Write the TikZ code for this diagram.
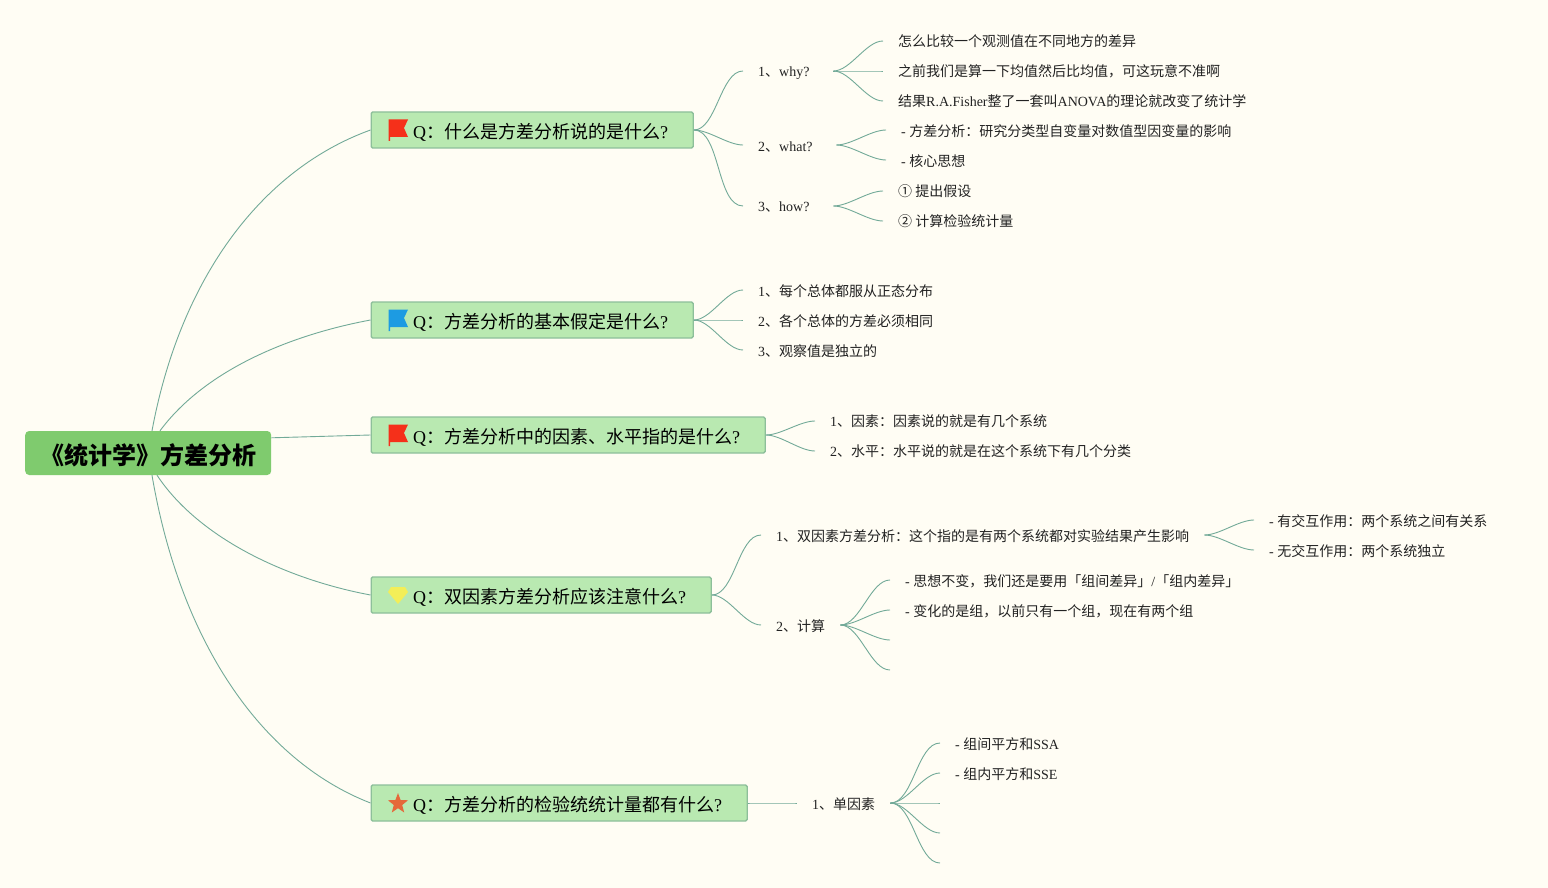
\documentclass[tikz,border=0pt]{standalone}
\usepackage{fontspec}
\setmainfont{Liberation Serif}
\newfontfamily\cjk{Noto Sans CJK SC}
\newcommand{\C}[1]{{\cjk #1}}
\definecolor{bgc}{HTML}{FFFDF4}
\definecolor{rootc}{HTML}{7FCB6E}
\definecolor{topicc}{HTML}{B9E9B1}
\definecolor{topicb}{HTML}{8DBF9A}
\definecolor{linec}{HTML}{72AA98}
\definecolor{inkc}{HTML}{222222}
\definecolor{redf}{HTML}{F5301A}
\definecolor{bluef}{HTML}{1D9BE2}
\definecolor{gemc}{HTML}{F3EE58}
\definecolor{starc}{HTML}{E5683A}
\tikzset{
  x=1pt,y=-1pt,
  rootbox/.style={anchor=west,fill=rootc,rounded corners=4pt,inner sep=0pt,minimum width=246pt,minimum height=44pt,text height=23pt,text depth=0pt,font=\fontsize{24pt}{28pt}\selectfont\bfseries,text=black},
  topic/.style={anchor=west,fill=topicc,draw=topicb,line width=1.4pt,rounded corners=1.5pt,inner sep=0pt,minimum height=36pt,text height=17.5pt,text depth=0pt,align=left,font=\fontsize{18pt}{22pt}\selectfont,text=black},
  sub/.style={anchor=west,inner xsep=15pt,inner ysep=0pt,text height=12.3pt,text depth=1.7pt,align=left,font=\fontsize{14pt}{17pt}\selectfont,text=inkc},
  low/.style={text height=13.3pt,text depth=0.7pt},
  conn/.style={draw=linec,line width=0.9pt},
  sig/.style={conn,out=0,in=180,looseness=0.75},
}
\newcommand{\Q}[1]{\hspace*{42pt}#1}
\begin{document}
\begin{tikzpicture}
\fill[bgc] (0,0) rectangle (1548,888);
\useasboundingbox (0,0) rectangle (1548,888);
% root and topics
\node[rootbox] (root) at (25,453) {\C{《统计学》方差分析}};
\node[topic,text width=322pt] (q1) at (370.5,130) {\Q{Q\C{：什么是方差分析说的是什么}?}};
\node[topic,text width=322pt] (q2) at (370.5,320) {\Q{Q\C{：方差分析的基本假定是什么}?}};
\node[topic,text width=394pt] (q3) at (370.5,435) {\Q{Q\C{：方差分析中的因素、水平指的是什么}?}};
\node[topic,text width=340pt] (q4) at (370.5,595) {\Q{Q\C{：双因素方差分析应该注意什么}?}};
\node[topic,text width=376pt] (q5) at (370.5,803) {\Q{Q\C{：方差分析的检验统统计量都有什么}?}};
% icons
\foreach \dy/\col in {0/redf,190/bluef,305/redf}{
  \fill[\col,shift={(0,\dy)}] (388.5,119.5) -- (408,119.5) -- (404,128) -- (408,137) -- (390,137) -- (390,141) -- (388.5,141) -- cycle;
}
\fill[gemc] (391,587) -- (405,587) -- (408,592) -- (398,604) -- (388,592) -- cycle;
\fill[starc] (398,793) -- (400.6,800) -- (408,800.3) -- (402.2,805) -- (404.2,812.5) -- (398,808.2) -- (391.8,812.5) -- (393.8,805) -- (388,800.3) -- (395.4,800) -- cycle;
% sub nodes
\node[sub,text width=60pt] (a1) at (743,71) {1\C{、}why?};
\node[sub,low,text width=63pt] (a2) at (743,145) {2\C{、}what?};
\node[sub,text width=60pt] (a3) at (743,206) {3\C{、}how?};
\node[sub] (a11) at (883,41) {\C{怎么比较一个观测值在不同地方的差异}};
\node[sub] (a12) at (883,71) {\C{之前我们是算一下均值然后比均值，可这玩意不准啊}};
\node[sub] (a13) at (883,101) {\C{结果}R.A.Fisher\C{整了一套叫}ANOVA\C{的理论就改变了统计学}};
\node[sub,low] (a21) at (886,130) {- \C{方差分析：研究分类型自变量对数值型因变量的影响}};
\node[sub,low] (a22) at (886,160) {- \C{核心思想}};
\node[sub] (a31) at (883,191) {\C{① 提出假设}};
\node[sub] (a32) at (883,221) {\C{② 计算检验统计量}};
\node[sub,low] (b1) at (743,290) {1\C{、每个总体都服从正态分布}};
\node[sub,low] (b2) at (743,320) {2\C{、各个总体的方差必须相同}};
\node[sub,low] (b3) at (743,350) {3\C{、观察值是独立的}};
\node[sub] (c1) at (815,421) {1\C{、因素：因素说的就是有几个系统}};
\node[sub] (c2) at (815,451) {2\C{、水平：水平说的就是在这个系统下有几个分类}};
\node[sub,low,text width=413pt] (d1) at (761,535) {1\C{、双因素方差分析：这个指的是有两个系统都对实验结果产生影响}};
\node[sub,low,text width=49pt] (d2) at (761,625) {2\C{、计算}};
\node[sub,low] (d11) at (1254,520) {- \C{有交互作用：两个系统之间有关系}};
\node[sub,low] (d12) at (1254,550) {- \C{无交互作用：两个系统独立}};
\node[sub,low] (d21) at (890,580) {- \C{思想不变，我们还是要用「组间差异」}/\C{「组内差异」}};
\node[sub,low] (d22) at (890,610) {- \C{变化的是组，以前只有一个组，现在有两个组}};
\coordinate (d23) at (890,640);
\coordinate (d24) at (890,670);
\node[sub,low,text width=63pt] (e1) at (797,803) {1\C{、单因素}};
\node[sub,low] (e11) at (940,743) {- \C{组间平方和}SSA};
\node[sub,low] (e12) at (940,773) {- \C{组内平方和}SSE};
\coordinate (e13) at (940,803);
\coordinate (e14) at (940,833);
\coordinate (e15) at (940,863);
% root connectors
\draw[conn] ([xshift=127pt]root.north west) .. controls (180,280) and (260,170) .. (q1.west);
\draw[conn] ([xshift=135pt]root.north west) .. controls (205,370) and (290,335) .. (q2.west);
\draw[conn] ([yshift=-7pt]root.north east) -- (q3.west);
\draw[conn] ([xshift=132pt]root.south west) .. controls (200,540) and (290,580) .. (q4.west);
\draw[conn] ([xshift=127pt]root.south west) .. controls (180,640) and (260,760) .. (q5.west);
% branches
\foreach \s/\t in {q1/a1,q1/a2,q1/a3,q2/b1,q2/b2,q2/b3,q3/c1,q3/c2,q4/d1,q4/d2,q5/e1,
  a1/a11,a1/a12,a1/a13,a2/a21,a2/a22,a3/a31,a3/a32,d1/d11,d1/d12,d2/d21,d2/d22,e1/e11,e1/e12}
  \draw[conn] (\s.east) to[sig] (\t.west);
\foreach \s/\t in {d2/d23,d2/d24,e1/e13,e1/e14,e1/e15}
  \draw[conn] (\s.east) to[sig] (\t);
\end{tikzpicture}
\end{document}
